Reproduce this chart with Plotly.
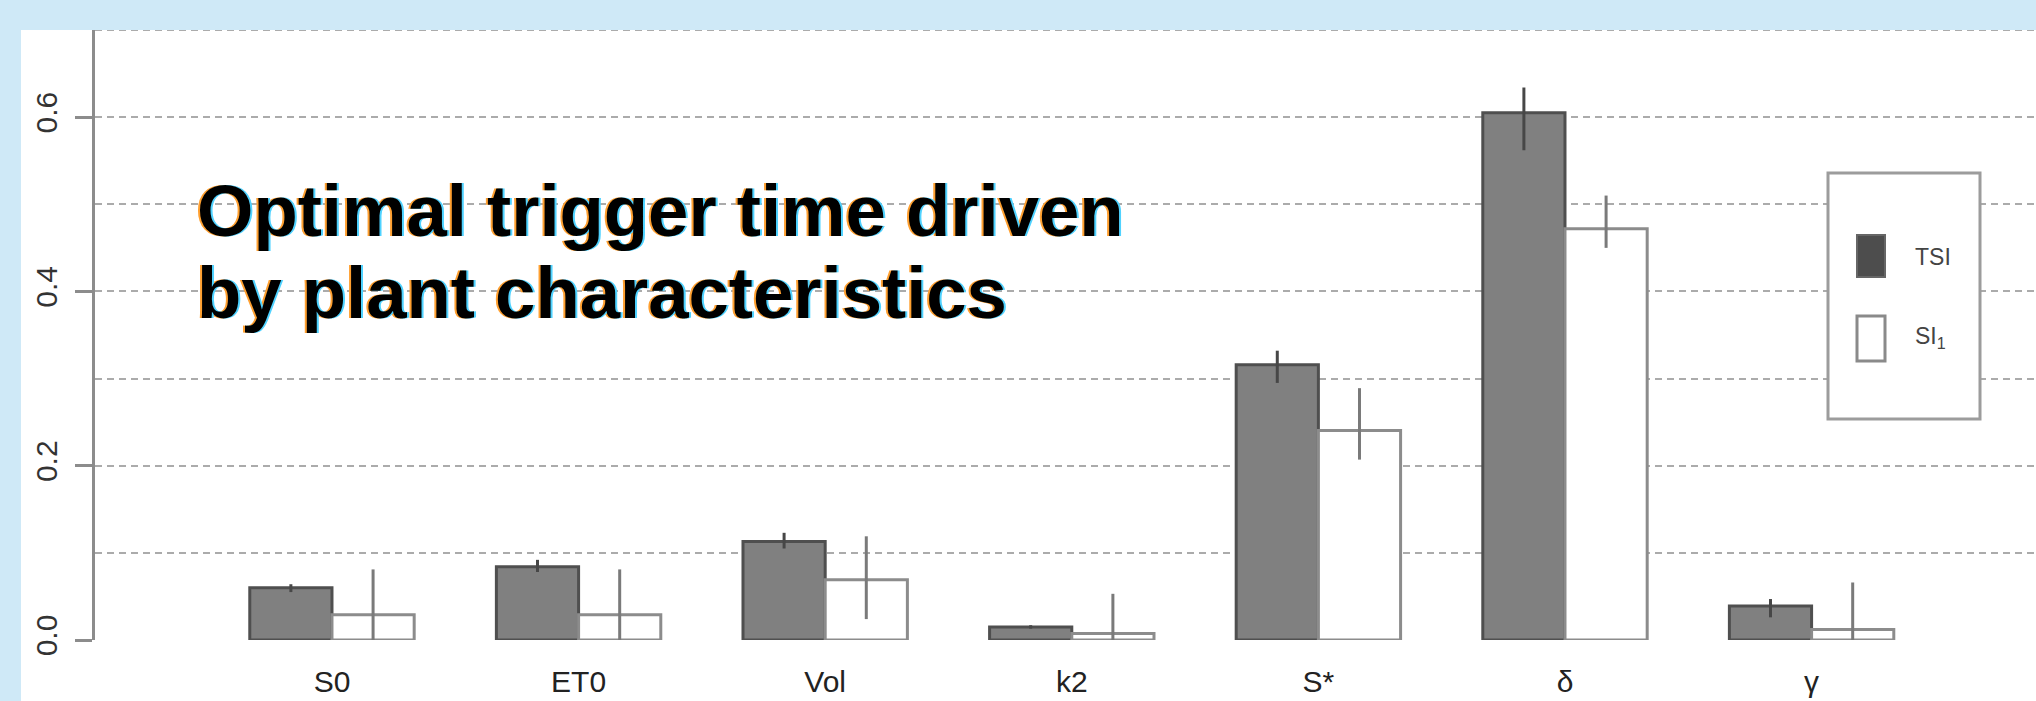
import plotly.graph_objects as go

# ---------------- data ----------------
categories = ["S0", "ET0", "Vol", "k2", "S*", "δ", "γ"]

tsi_values = [0.060, 0.084, 0.113, 0.015, 0.316, 0.605, 0.039]
tsi_ci_low = [0.055, 0.078, 0.105, 0.013, 0.295, 0.562, 0.026]
tsi_ci_high = [0.064, 0.092, 0.123, 0.017, 0.332, 0.634, 0.047]

si_values = [0.029, 0.029, 0.069, 0.0075, 0.2405, 0.472, 0.012]
si_ci_low = [0.0, 0.0, 0.024, 0.0, 0.207, 0.450, 0.0]
si_ci_high = [0.081, 0.081, 0.119, 0.053, 0.289, 0.510, 0.066]

y_tick_values = [0.0, 0.2, 0.4, 0.6]
y_tick_labels = ["0.0", "0.2", "0.4", "0.6"]
y_minor_values = [0.1, 0.3, 0.5, 0.7]

series_names = ["TSI", "SI<sub>1</sub>"]
title_lines = ["Optimal trigger time driven", "by plant characteristics"]

# ---------------- layout geometry ----------------
W, H = 2036, 701
ML, MR, MT, MB = 95, 0, 30, 61
PW, PH = W - ML - MR, H - MT - MB


def px(x):
    return (x - ML) / PW


def py(y):
    return (H - MB - y) / PH


FONT = "Liberation Sans, Arial, Helvetica, sans-serif"
GRID = "#ababab"

fig = go.Figure()

fig.add_trace(go.Bar(
    x=categories, y=tsi_values, name=series_names[0],
    marker=dict(color="#808080", line=dict(color="#4f4f4f", width=3)),
    error_y=dict(type="data", symmetric=False,
                 array=[h - v for h, v in zip(tsi_ci_high, tsi_values)],
                 arrayminus=[v - l for v, l in zip(tsi_values, tsi_ci_low)],
                 color="#474747", thickness=3, width=0),
    showlegend=False,
))
fig.add_trace(go.Bar(
    x=categories, y=si_values, name=series_names[1],
    marker=dict(color="#ffffff", line=dict(color="#8c8c8c", width=3)),
    error_y=dict(type="data", symmetric=False,
                 array=[h - v for h, v in zip(si_ci_high, si_values)],
                 arrayminus=[v - l for v, l in zip(si_values, si_ci_low)],
                 color="#7a7a7a", thickness=3, width=0),
    showlegend=False,
))

shapes = [
    # white drawing surface (the blue band is the page background)
    dict(type="rect", xref="paper", yref="paper", x0=px(21), x1=1.0,
         y0=py(H), y1=1.0, fillcolor="white", line=dict(width=0), layer="below"),
    # top grid line at the edge of the plotting region
    dict(type="line", xref="paper", yref="y", x0=0, x1=1,
         y0=y_minor_values[-1], y1=y_minor_values[-1],
         line=dict(color=GRID, width=2, dash="7px,5px"), layer="below"),
    # legend box
    dict(type="rect", xref="paper", yref="paper", x0=px(1828), x1=px(1980),
         y0=py(419), y1=py(173), fillcolor="white",
         line=dict(color="#9c9c9c", width=3), layer="above"),
    dict(type="rect", xref="paper", yref="paper", x0=px(1857), x1=px(1885),
         y0=py(277), y1=py(235), fillcolor="#4d4d4d",
         line=dict(color="#666666", width=2), layer="above"),
    dict(type="rect", xref="paper", yref="paper", x0=px(1857), x1=px(1885),
         y0=py(361), y1=py(316), fillcolor="white",
         line=dict(color="#8a8a8a", width=3), layer="above"),
]

annotations = [
    dict(xref="paper", yref="paper", x=px(1913), y=py(257), xanchor="left",
         yanchor="middle", text=series_names[0], showarrow=False,
         font=dict(family=FONT, size=23, color="#444444")),
    dict(xref="paper", yref="paper", x=px(1913), y=py(338), xanchor="left",
         yanchor="middle", text=series_names[1], showarrow=False,
         font=dict(family=FONT, size=23, color="#444444")),
]

title_y = [211, 292]
for line, yy in zip(title_lines, title_y):
    for shift, col in ((-2, "#ffa030"), (2, "#4fd2ff"), (0, "#000000")):
        annotations.append(dict(
            xref="paper", yref="paper", x=px(195), y=py(yy), xanchor="left",
            yanchor="middle", text="<b>%s</b>" % line, showarrow=False,
            xshift=shift,
            font=dict(family=FONT, size=72.5, color=col)))

fig.update_layout(
    width=W, height=H,
    margin=dict(l=ML, r=MR, t=MT, b=MB, pad=0, autoexpand=False),
    paper_bgcolor="#cfe9f7",
    plot_bgcolor="white",
    barmode="group", bargap=1/3, bargroupgap=0,
    shapes=shapes, annotations=annotations,
    showlegend=False,
    xaxis=dict(
        range=[-0.961, 6.910], showgrid=False, zeroline=False, showline=False,
        ticks="", tickfont=dict(family=FONT, size=30, color="#222222"),
        ticklabelstandoff=21, automargin=False,
    ),
    yaxis=dict(
        range=[0, 0.7], tickmode="array", tickvals=y_tick_values,
        ticktext=y_tick_labels, tickangle=-90,
        tickfont=dict(family=FONT, size=30, color="#333333"),
        ticks="outside", ticklen=17, tickwidth=3, tickcolor="#8c8c8c",
        showline=True, linecolor="#8c8c8c", linewidth=3,
        showgrid=True, gridcolor=GRID, gridwidth=2, griddash="7px,5px",
        zeroline=False, automargin=False,
        minor=dict(tickmode="array", tickvals=y_minor_values, ticks="",
                   showgrid=True, gridcolor=GRID, gridwidth=2,
                   griddash="7px,5px"),
        ticklabelstandoff=6,
    ),
)

fig.write_html(
    "out.html",
    config={"displayModeBar": False},
    post_script="document.body.style.margin='0px';document.body.style.overflow='hidden';",
)
